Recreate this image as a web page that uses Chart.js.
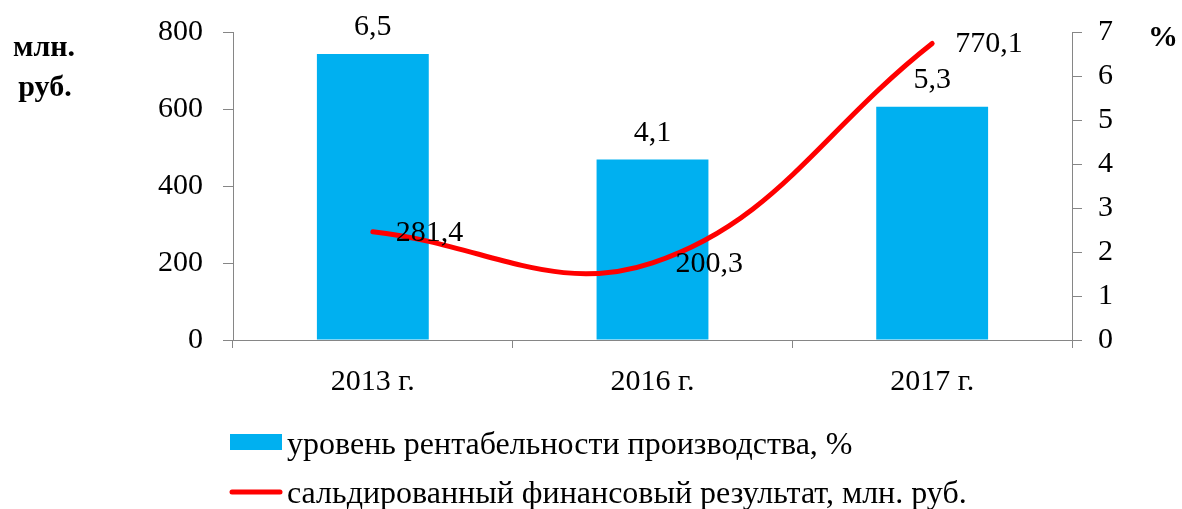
<!DOCTYPE html>
<html>
<head>
<meta charset="utf-8">
<script src="https://cdn.jsdelivr.net/npm/chart.js@4/dist/chart.umd.min.js"></script>
<style>
html,body{margin:0;padding:0;background:#fff;}
#wrap{position:relative;width:1182px;height:509px;}
</style>
</head>
<body>
<div id="wrap"><canvas id="c" width="1182" height="509"></canvas></div>
<script>
const categories = ['2013 г.', '2016 г.', '2017 г.'];
const profitability = [6.5, 4.1, 5.3];          // уровень рентабельности производства, %
const financialResult = [281.4, 200.3, 770.1];  // сальдированный финансовый результат, млн. руб.
const leftTicks = [0, 200, 400, 600, 800];
const rightTicks = [0, 1, 2, 3, 4, 5, 6, 7];
const seriesNames = ['уровень рентабельности производства, %', 'сальдированный финансовый результат, млн. руб.'];
const leftTitle = ['млн.', 'руб.'];
const rightTitle = '%';

const FONT = "'Liberation Serif', 'Times New Roman', serif";
const BLUE = '#00B0F0';
const RED = '#FF0000';
const AXIS = '#868686';
const fmt = v => v.toFixed(1).replace('.', ',');

const labelPlugin = {
  id: 'labels',
  afterDatasetsDraw(chart) {
    const ctx = chart.ctx;
    ctx.save();
    ctx.fillStyle = '#000';
    ctx.font = '30px ' + FONT;
    chart.data.datasets.forEach((ds, i) => {
      const meta = chart.getDatasetMeta(i);
      meta.data.forEach((el, j) => {
        const txt = fmt(ds.data[j]);
        if (ds.type === 'bar') {
          ctx.textAlign = 'center';
          ctx.textBaseline = 'alphabetic';
          ctx.fillText(txt, el.x, el.y - 19);
        } else {
          ctx.textAlign = 'left';
          ctx.textBaseline = 'middle';
          ctx.fillText(txt, el.x + 23, el.y + 1);
        }
      });
    });
    ctx.restore();
  },
  afterDraw(chart) {
    const ctx = chart.ctx;
    ctx.save();
    ctx.fillStyle = '#000';
    ctx.font = 'bold 30px ' + FONT;
    ctx.textAlign = 'center';
    ctx.textBaseline = 'alphabetic';
    ctx.fillText(leftTitle[0], 44, 56);
    ctx.fillText(leftTitle[1], 45, 96);
    ctx.fillText(rightTitle, 1163, 46);
    // legend
    ctx.font = '32px ' + FONT;
    ctx.textAlign = 'left';
    ctx.fillStyle = BLUE;
    ctx.fillRect(230, 434, 52, 16);
    ctx.fillStyle = '#000';
    ctx.fillText(seriesNames[0], 287, 454);
    ctx.strokeStyle = RED;
    ctx.lineWidth = 5;
    ctx.lineCap = 'round';
    ctx.beginPath();
    ctx.moveTo(232, 492);
    ctx.lineTo(280, 492);
    ctx.stroke();
    ctx.fillText(seriesNames[1], 287, 503);
    ctx.restore();
  }
};

new Chart(document.getElementById('c'), {
  data: {
    labels: categories,
    datasets: [
      {
        type: 'line',
        label: seriesNames[1],
        data: financialResult,
        yAxisID: 'y',
        borderColor: RED,
        borderWidth: 5,
        pointRadius: 0,
        tension: 0.4,
        borderCapStyle: 'round',
        fill: false,
        order: 0
      },
      {
        type: 'bar',
        label: seriesNames[0],
        data: profitability,
        yAxisID: 'y1',
        backgroundColor: BLUE,
        barPercentage: 0.4,
        categoryPercentage: 1,
        order: 1
      }
    ]
  },
  options: {
    responsive: false,
    animation: false,
    layout: { padding: { top: 32, left: 0, right: 0, bottom: 0 } },
    plugins: { legend: { display: false }, tooltip: { enabled: false } },
    scales: {
      x: {
        offset: true,
        grid: { offset: true, drawOnChartArea: false, tickLength: 8, color: AXIS },
        border: { color: AXIS, width: 1 },
        ticks: { color: '#000', font: { family: FONT, size: 30 }, padding: 16 },
        afterFit(s) { s.height = 169; s.paddingLeft = 0; s.paddingRight = 0; }
      },
      y: {
        position: 'left',
        min: 0, max: 800,
        afterBuildTicks(s) { s.ticks = leftTicks.map(v => ({ value: v })); },
        grid: { drawOnChartArea: false, tickLength: 10, color: AXIS },
        border: { color: AXIS, width: 1 },
        ticks: { color: '#000', font: { family: FONT, size: 30 }, padding: 20 },
        afterFit(s) { s.width = 233; s.paddingTop = 0; s.paddingBottom = 0; }
      },
      y1: {
        position: 'right',
        min: 0, max: 7,
        afterBuildTicks(s) { s.ticks = rightTicks.map(v => ({ value: v })); },
        grid: { drawOnChartArea: false, tickLength: 10, color: AXIS },
        border: { color: AXIS, width: 1 },
        ticks: { color: '#000', font: { family: FONT, size: 30 }, padding: 16 },
        afterFit(s) { s.width = 110; s.paddingTop = 0; s.paddingBottom = 0; }
      }
    }
  },
  plugins: [labelPlugin]
});
</script>
</body>
</html>
